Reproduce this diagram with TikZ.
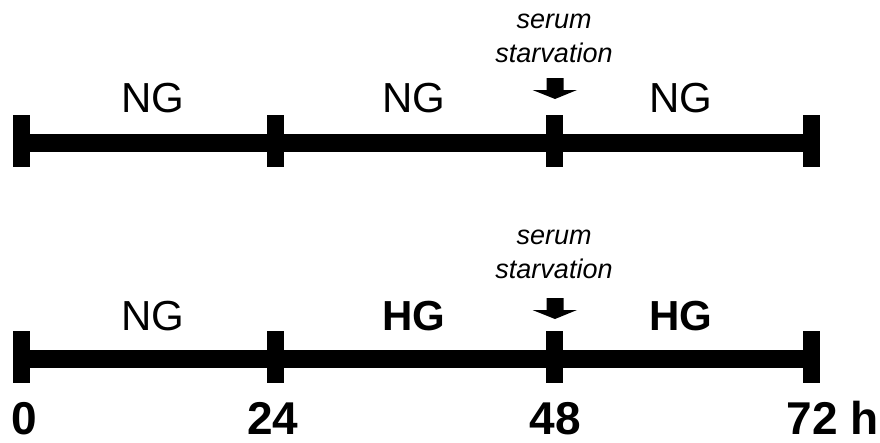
\documentclass[tikz,border=0pt]{standalone}
\usepackage{fontspec}
\setmainfont{Liberation Sans}
\begin{document}
\begin{tikzpicture}[x=1pt,y=-1pt,
  tickbox/.style={rectangle,fill=black,draw=none,inner sep=0pt,minimum width=17pt,minimum height=52pt},
  barline/.style={line width=18pt},
  lbl/.style={inner sep=0pt,anchor=base,font=\fontsize{42}{50}\selectfont},
  lblb/.style={inner sep=0pt,anchor=base,font=\fontsize{42}{50}\selectfont\bfseries},
  num/.style={inner sep=0pt,anchor=base,font=\fontsize{46}{54}\selectfont\bfseries},
  note/.style={inner sep=0pt,anchor=base,font=\fontsize{27}{32}\selectfont\itshape},
  blockarrow/.style={fill=black,draw=none}
]
\useasboundingbox (0,0) rectangle (880,442);
% top row
\foreach \n/\x in {a0/21.5,a1/275,a2/554,a3/811}{
  \node[tickbox] (\n) at (\x,141) {};
}
\draw[barline] ([yshift=-2pt]a0.center) -- ([yshift=-2pt]a3.center);
\node[lbl] (ng1) at (153,112) {NG};
\node[lbl] (ng2) at (414,112) {NG};
\node[lbl] (ng3) at (681,112) {NG};
\node[note] (s1) at (554,28) {serum};
\node[note] (st1) at (554,62) {starvation};
\coordinate (ar1) at (555,78);
\fill[blockarrow] ([xshift=-8.5pt]ar1) -- ([xshift=8.5pt]ar1) -- ++(0,-12pt) -- ++(13.5pt,0) -- ([yshift=-21pt]ar1) -- ([xshift=-22.5pt,yshift=-12pt]ar1) -- ([xshift=-8.5pt,yshift=-12pt]ar1) -- cycle;
% bottom row
\foreach \n/\x in {b0/21.5,b1/275,b2/554,b3/811}{
  \node[tickbox] (\n) at (\x,357) {};
}
\draw[barline] ([yshift=-2pt]b0.center) -- ([yshift=-2pt]b3.center);
\node[lbl] (ng4) at (153,330) {NG};
\node[lblb] (hg1) at (414,330) {HG};
\node[lblb] (hg2) at (681,330) {HG};
\node[note] (s2) at (554,244) {serum};
\node[note] (st2) at (554,278) {starvation};
\coordinate (ar2) at (555,298);
\fill[blockarrow] ([xshift=-8.5pt]ar2) -- ([xshift=8.5pt]ar2) -- ++(0,-12pt) -- ++(13.5pt,0) -- ([yshift=-21pt]ar2) -- ([xshift=-22.5pt,yshift=-12pt]ar2) -- ([xshift=-8.5pt,yshift=-12pt]ar2) -- cycle;
% time labels
\node[num] (n0) at (24,434) {0};
\node[num] (n24) at (273,434) {24};
\node[num] (n48) at (555,434) {48};
\node[num] (n72) at (812,434) {72\rlap{ h}};
\end{tikzpicture}
\end{document}
